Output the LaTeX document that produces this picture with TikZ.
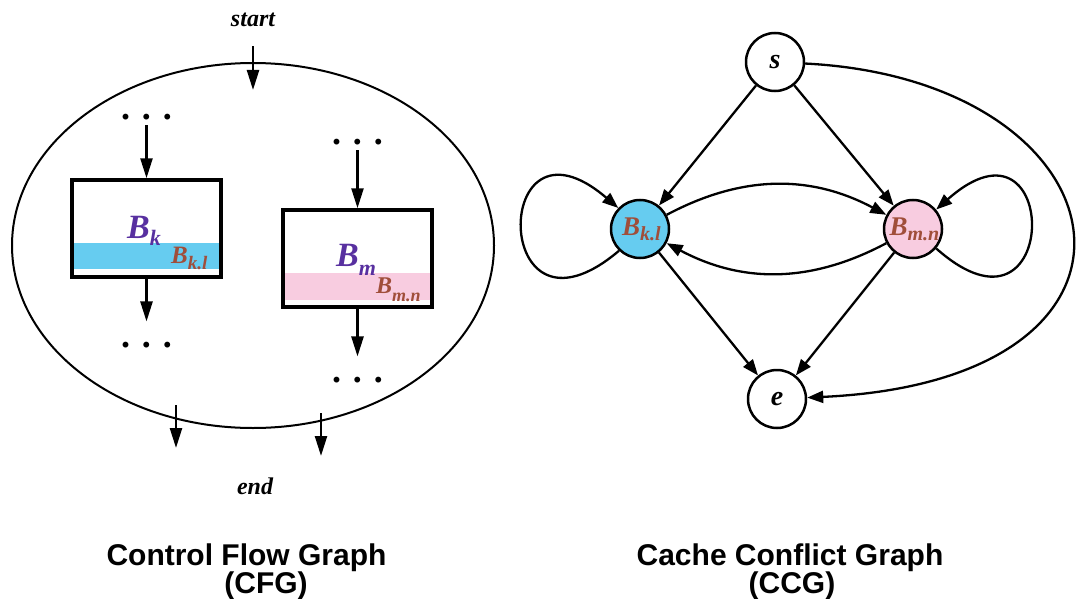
\documentclass[tikz,border=0pt]{standalone}
\usepackage{fontspec}
\setmainfont{Liberation Serif}
\newfontfamily\titlefont{Liberation Sans}
\usetikzlibrary{arrows.meta}

\definecolor{bandblue}{RGB}{102,204,240}
\definecolor{bandpink}{RGB}{248,204,224}
\definecolor{blockpurple}{RGB}{88,48,160}
\definecolor{linebrown}{RGB}{160,78,58}

% B with a lowered subscript: #1 size of B, #2 size of subscript, #3 drop, #4 subscript
\newcommand\Bsub[4]{{\fontsize{#1}{#1}\selectfont\bfseries\itshape B}\raisebox{-#3}{\fontsize{#2}{#2}\selectfont\bfseries\itshape #4}}

\begin{document}
\begin{tikzpicture}[x=1pt,y=-1pt,
  flow/.style={line width=2.4pt,-{Triangle[length=20pt,width=12pt]}},
  link/.style={line width=2.3pt,-{Triangle[length=16pt,width=12pt]}},
  blockbox/.style={draw,line width=3.5pt,minimum width=149pt,minimum height=97pt,inner sep=0pt},
  state/.style={circle,draw,line width=2.5pt,minimum size=58pt,inner sep=0pt},
  blocklabel/.style={inner sep=0pt,anchor=base west,text=blockpurple},
  linelabel/.style={inner sep=0pt,anchor=base west,text=linebrown},
  dots/.style={font=\bfseries\fontsize{36pt}{36pt}\selectfont,inner sep=0pt,anchor=base},
  terminal/.style={font=\bfseries\itshape\fontsize{24pt}{24pt}\selectfont,inner sep=0pt},
  caption/.style={font=\titlefont\bfseries\fontsize{30pt}{30pt}\selectfont,anchor=base,inner sep=0pt}
]
\useasboundingbox (0,0) rectangle (1076,599);

% ---------------- control flow graph ----------------
\draw[line width=2pt] (253,245.5) ellipse [x radius=241pt, y radius=182.5pt];

\node[terminal] (startlbl) at (253,20) {start};
\node[terminal] (endlbl) at (255,486) {end};

% cache-line bands inside the two blocks
\fill[bandblue] (74,243) rectangle (219,269);
\fill[bandpink] (285,273) rectangle (430,300);

\node[blockbox] (bk) at (146.5,228.5) {};
\node[blockbox] (bm) at (357.5,258.5) {};

\node[blocklabel] (bklbl) at (127,238) {\Bsub{34pt}{22pt}{7pt}{k}};
\node[linelabel] (bkllbl) at (171,263) {\Bsub{25pt}{19pt}{6pt}{k.l}};
\node[blocklabel] (bmlbl) at (336,266) {\Bsub{34pt}{22pt}{9pt}{m}};
\node[linelabel] (bmnlbl) at (376,293) {\Bsub{24pt}{18pt}{8pt}{m.n}};

\node[dots] (d1) at (146.5,120) {.\,\,.\,\,.};
\node[dots] (d2) at (357.5,145) {.\,\,.\,\,.};
\node[dots] (d3) at (146.5,347) {.\,\,.\,\,.};
\node[dots] (d4) at (357.5,382) {.\,\,.\,\,.};

\coordinate (entry) at (253,90);
\coordinate (exitAa) at (176,405);
\coordinate (exitAb) at (176,448);
\coordinate (exitBa) at (321,413);
\coordinate (exitBb) at (321,456);

\draw[flow,shorten <=19pt] (startlbl.south) -- (entry);
\draw[flow,shorten <=11pt] (d1.north) -- (bk.north);
\draw[flow,shorten <=11pt] (d2.north) -- (bm.north);
\draw[flow,shorten >=20pt] (bk.south) -- (d3.north);
\draw[flow,shorten >=20pt] (bm.south) -- (d4.north);
\draw[flow] (exitAa) -- (exitAb);
\draw[flow] (exitBa) -- (exitBb);

\node[caption] (cfgtitle) at (246.5,565) {Control Flow Graph};
\node[caption] (cfgabbr) at (266,593) {(CFG)};

% ---------------- cache conflict graph ----------------
\node[state] (s) at (775,62) {\bfseries\itshape\fontsize{28pt}{28pt}\selectfont s};
\node[state] (e) at (777,399) {\bfseries\itshape\fontsize{28pt}{28pt}\selectfont e};
\node[state,fill=bandblue,text=linebrown] (bkl) at (640,229) {\hspace{3pt}\Bsub{27pt}{20pt}{5pt}{k.l}};
\node[state,fill=bandpink,text=linebrown] (bmn) at (913,229) {\hspace{3pt}\Bsub{27pt}{20pt}{5pt}{m.n}};

\draw[link] (s) -- (bkl);
\draw[link] (s) -- (bmn);
\draw[link] (bkl) to[bend left=28] (bmn);
\draw[link] (bmn) to[bend left=28] (bkl);
\draw[link] (bkl.226) .. controls (490,360) and (490,98) .. (bkl.136);
\draw[link] (bmn.-40) .. controls (1062,360) and (1062,98) .. (bmn.40);
\draw[link] (bkl) -- (e);
\draw[link] (bmn) -- (e);
\draw[link] (s) .. controls (1130,80) and (1190,380) .. (e);

\node[caption] (ccgtitle) at (790,565) {Cache Conflict Graph};
\node[caption] (ccgabbr) at (792,593) {(CCG)};
\end{tikzpicture}
\end{document}
